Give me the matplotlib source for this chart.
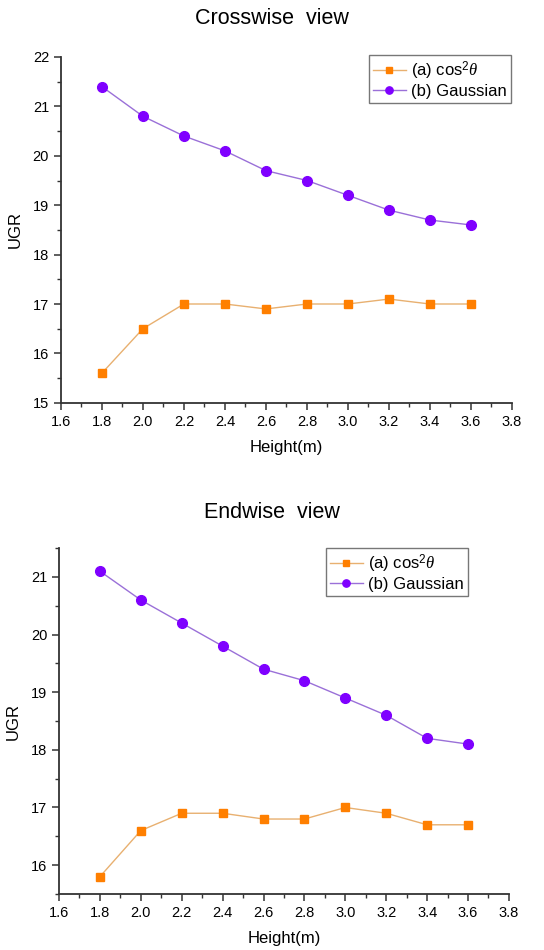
import numpy as np
import matplotlib
matplotlib.use('Agg')
from matplotlib import pyplot as plt
from matplotlib.ticker import MultipleLocator, FormatStrFormatter

plt.rcParams['font.family'] = ['Liberation Sans', 'DejaVu Sans']
plt.rcParams['mathtext.fontset'] = 'custom'
plt.rcParams['mathtext.rm'] = 'Liberation Sans'
plt.rcParams['mathtext.it'] = 'Liberation Serif:italic'

height = [1.8, 2.0, 2.2, 2.4, 2.6, 2.8, 3.0, 3.2, 3.4, 3.6]

cross_cos = [15.6, 16.5, 17.0, 17.0, 16.9, 17.0, 17.0, 17.1, 17.0, 17.0]
cross_gauss = [21.4, 20.8, 20.4, 20.1, 19.7, 19.5, 19.2, 18.9, 18.7, 18.6]

end_cos = [15.8, 16.6, 16.9, 16.9, 16.8, 16.8, 17.0, 16.9, 16.7, 16.7]
end_gauss = [21.1, 20.6, 20.2, 19.8, 19.4, 19.2, 18.9, 18.6, 18.2, 18.1]

ORANGE = '#ff7f00'
ORANGE_LINE = '#e8b070'
PURPLE = '#7f00ff'
PURPLE_LINE = '#9a70d8'


def draw_panel(fig, rect, title, cos_vals, gauss_vals, ylim, title_y, leg_anchor):
    ax = fig.add_axes(rect)
    ax.plot(height, cos_vals, color=ORANGE_LINE, lw=1.0, marker='s', ms=6,
            mfc=ORANGE, mec=ORANGE, label=r'(a) cos$^2\theta$')
    ax.plot(height, gauss_vals, color=PURPLE_LINE, lw=1.0, marker='o', ms=7,
            mfc=PURPLE, mec=PURPLE, label='(b) Gaussian')
    ax.set_xlim(1.6, 3.8)
    ax.set_ylim(*ylim)
    ax.xaxis.set_major_locator(MultipleLocator(0.2))
    ax.xaxis.set_minor_locator(MultipleLocator(0.1))
    ax.yaxis.set_major_locator(MultipleLocator(1))
    ax.yaxis.set_minor_locator(MultipleLocator(0.5))
    ax.xaxis.set_major_formatter(FormatStrFormatter('%.1f'))
    for s in ('top', 'right'):
        ax.spines[s].set_visible(False)
    for s in ('left', 'bottom'):
        ax.spines[s].set_linewidth(1.3)
        ax.spines[s].set_color('#333333')
    ax.tick_params(which='major', direction='out', length=5, width=1.1,
                   labelsize=10.5, color='#333333')
    ax.tick_params(which='minor', direction='out', length=3, width=1.0,
                   color='#333333')
    ax.set_xlabel('Height(m)', fontsize=12, labelpad=8)
    ax.set_ylabel('UGR', fontsize=12, labelpad=7)
    leg = ax.legend(loc='upper right', bbox_to_anchor=leg_anchor, fontsize=12,
                    frameon=True, fancybox=False, handlelength=2.0,
                    handletextpad=0.3, borderpad=0.25, labelspacing=0.15,
                    borderaxespad=0.0, markerscale=0.75)
    leg.get_frame().set_edgecolor('#555555')
    leg.get_frame().set_linewidth(1.0)
    fig.text(0.5, title_y, title, ha='center', va='center', fontsize=15.5)
    return ax


def main():
    fig = plt.figure(figsize=(5.44, 9.5), dpi=100)
    draw_panel(fig, [0.112, 0.576, 0.829, 0.364], 'Crosswise  view',
               cross_cos, cross_gauss, (15, 22), 0.981, (0.998, 1.005))
    draw_panel(fig, [0.1085, 0.059, 0.827, 0.364], 'Endwise  view',
               end_cos, end_gauss, (15.5, 21.5), 0.461, (0.909, 1.0))
    fig.savefig('out.png', dpi=100)


if __name__ == '__main__':
    main()
